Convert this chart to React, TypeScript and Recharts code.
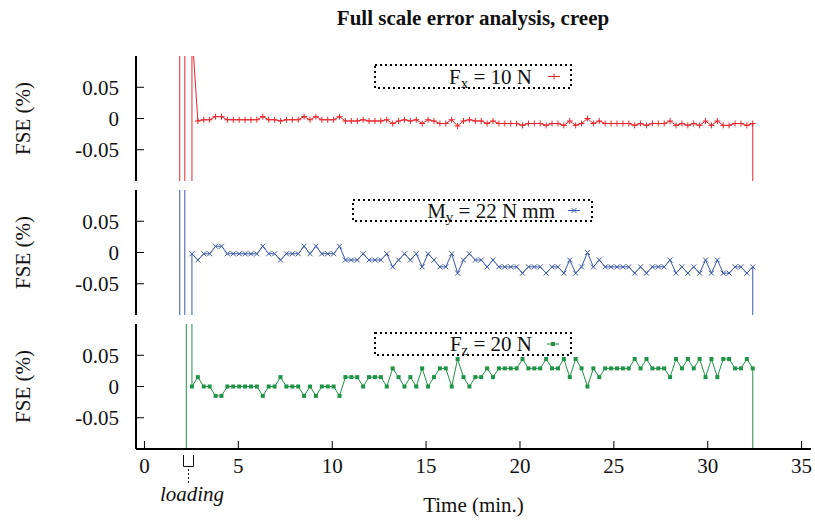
import { LineChart, Line, XAxis, YAxis, Legend } from 'recharts';

const FONT = "'Liberation Serif', 'Times New Roman', serif";

const TITLE = 'Full scale error analysis, creep';
const X_LABEL = 'Time (min.)';
const Y_LABEL = 'FSE (%)';
const X_TICKS = [0, 5, 10, 15, 20, 25, 30, 35];
const Y_TICKS = [-0.05, 0, 0.05];

// logger sampling (min.)
const SAMPLE_START = 2.53;
const SAMPLE_STEP = 0.3144;

// FSE (%) per sample
const fxValues = [
  0.14, -0.004, -0.002, -0.002, 0.003, 0.003, -0.002, -0.002, -0.002, -0.002,
  -0.002, -0.002, 0.003, -0.002, -0.002, -0.004, -0.002, -0.002, -0.002, 0.003,
  -0.002, 0.003, -0.002, -0.002, -0.002, 0.003, -0.004, -0.004, -0.004, -0.002,
  -0.004, -0.004, -0.004, -0.002, -0.008, -0.004, -0.002, -0.004, -0.002, -0.008,
  -0.002, -0.004, -0.008, -0.008, -0.002, -0.012, -0.004, -0.002, -0.004, -0.004,
  -0.008, -0.004, -0.008, -0.008, -0.008, -0.008, -0.011, -0.008, -0.008, -0.008,
  -0.011, -0.008, -0.008, -0.011, -0.004, -0.011, -0.008, 0.0, -0.008, -0.004,
  -0.008, -0.008, -0.008, -0.008, -0.008, -0.011, -0.008, -0.011, -0.008, -0.008,
  -0.008, -0.004, -0.011, -0.008, -0.011, -0.008, -0.011, -0.004, -0.011, -0.004,
  -0.011, -0.011, -0.008, -0.008, -0.011, -0.008,
];

const myValues = [
  -0.002, -0.012, -0.002, -0.002, 0.01, 0.01, -0.002, -0.002, -0.002, -0.002,
  -0.002, -0.002, 0.01, -0.002, -0.002, -0.012, -0.002, -0.002, -0.002, 0.01,
  -0.002, 0.01, -0.002, -0.002, -0.002, 0.01, -0.012, -0.012, -0.012, -0.002,
  -0.012, -0.012, -0.012, -0.002, -0.023, -0.012, -0.002, -0.012, -0.002, -0.023,
  -0.002, -0.012, -0.023, -0.023, -0.002, -0.033, -0.012, -0.002, -0.012, -0.012,
  -0.023, -0.012, -0.023, -0.023, -0.023, -0.023, -0.033, -0.023, -0.023, -0.023,
  -0.033, -0.023, -0.023, -0.033, -0.012, -0.033, -0.023, 0.0, -0.023, -0.012,
  -0.023, -0.023, -0.023, -0.023, -0.023, -0.033, -0.023, -0.033, -0.023, -0.023,
  -0.023, -0.012, -0.033, -0.023, -0.033, -0.023, -0.033, -0.012, -0.033, -0.012,
  -0.033, -0.033, -0.023, -0.023, -0.033, -0.023,
];

const fzValues = [
  0, 0.015, 0, 0, -0.015, -0.015, 0, 0, 0, 0,
  0, 0, -0.015, 0, 0, 0.015, 0, 0, 0, -0.015,
  0, -0.015, 0, 0, 0, -0.015, 0.015, 0.015, 0.015, 0,
  0.015, 0.015, 0.015, 0, 0.029, 0.015, 0, 0.015, 0, 0.029,
  0, 0.015, 0.029, 0.029, 0, 0.044, 0.015, 0, 0.015, 0.015,
  0.029, 0.015, 0.029, 0.029, 0.029, 0.029, 0.044, 0.029, 0.029, 0.029,
  0.044, 0.029, 0.029, 0.044, 0.015, 0.044, 0.029, 0, 0.029, 0.015,
  0.029, 0.029, 0.029, 0.029, 0.029, 0.044, 0.029, 0.044, 0.029, 0.029,
  0.029, 0.015, 0.044, 0.029, 0.044, 0.029, 0.044, 0.015, 0.044, 0.015,
  0.044, 0.044, 0.029, 0.029, 0.044, 0.029,
];

// off-scale swings while the load is applied
const fxLoadTimes = [1.88, 1.88, 2.15, 2.15, 2.53];
const fxLoadValues = [-1, 1, 1, -1, -1];
const myLoadTimes = [1.88, 1.88, 2.15, 2.15, 2.53];
const myLoadValues = [-1, 1, 1, -1, -1];
const fzLoadTimes = [2.23, 2.23, 2.53];
const fzLoadValues = [-1, 1, 1];
// drop when the load is removed
const UNLOAD_VALUE = -1;

type Pt = { t: number; v: number };

function buildSeries(loadT: number[], loadV: number[], values: number[]): Pt[] {
  const pts: Pt[] = loadT.map((t, i) => ({ t, v: loadV[i] }));
  values.forEach((v, i) => {
    pts.push({ t: Math.round((SAMPLE_START + i * SAMPLE_STEP) * 1000) / 1000, v });
  });
  pts.push({ t: pts[pts.length - 1].t, v: UNLOAD_VALUE });
  return pts;
}

const fxData = buildSeries(fxLoadTimes, fxLoadValues, fxValues);
const myData = buildSeries(myLoadTimes, myLoadValues, myValues);
const fzData = buildSeries(fzLoadTimes, fzLoadValues, fzValues);

type Shape = 'plus' | 'cross' | 'square';

function Marker({ x, y, color, shape }: { x: number; y: number; color: string; shape: Shape }) {
  if (shape === 'plus')
    return <path d={`M${x - 3},${y}h6M${x},${y - 3}v6`} stroke={color} strokeWidth={1} fill="none" />;
  if (shape === 'cross')
    return (
      <path d={`M${x - 2.5},${y - 2.5}l5,5M${x - 2.5},${y + 2.5}l5,-5`} stroke={color} strokeWidth={1} fill="none" />
    );
  return <rect x={x - 2} y={y - 2} width={4} height={4} fill={color} />;
}

function makeDot(color: string, shape: Shape) {
  return (props: any) => {
    const { cx, cy, payload, index } = props;
    if (cx == null || cy == null || Math.abs(payload.v) > 0.1) return <g key={index} />;
    return (
      <g key={index}>
        <Marker x={cx} y={cy} color={color} shape={shape} />
      </g>
    );
  };
}

type KeyProps = {
  width: number;
  height: number;
  textEnd: number;
  sampleX: number;
  color: string;
  shape: Shape;
  name: string;
  sub: string;
  rest: string;
};

function KeyBox({ width, height, textEnd, sampleX, color, shape, name, sub, rest }: KeyProps) {
  const cy = height / 2;
  return (
    <svg width={width} height={height} style={{ display: 'block', overflow: 'visible' }}>
      <rect
        x={1}
        y={1}
        width={width - 2}
        height={height - 2}
        fill="none"
        stroke="#000"
        strokeWidth={2}
        strokeDasharray="2 3"
      />
      <text x={textEnd} y={cy + 7} textAnchor="end" fontFamily={FONT} fontSize={21} fill="#111">
        {name}
        <tspan fontSize={15} dy={4}>
          {sub}
        </tspan>
        <tspan dy={-4}>{'\u00a0' + rest}</tspan>
      </text>
      <line x1={sampleX - 6} x2={sampleX + 6} y1={cy} y2={cy} stroke={color} strokeWidth={1} />
      <Marker x={sampleX} y={cy} color={color} shape={shape} />
    </svg>
  );
}

function YLabel(props: any) {
  const vb = props.viewBox;
  const cy = vb.y + vb.height / 2;
  return (
    <text
      transform={`translate(29.5, ${cy}) rotate(-90)`}
      textAnchor="middle"
      fontFamily={FONT}
      fontSize={21}
      fill="#111"
    >
      {Y_LABEL}
    </text>
  );
}

const PLOT_H = 125;
const tickStyle = { fill: '#111', fontSize: 21, fontFamily: FONT };
const frame = { stroke: '#000', strokeWidth: 2 };
const tickMark = { stroke: '#000', strokeWidth: 1 };
const blank = () => '';

type PanelProps = {
  data: Pt[];
  plotTop: number;
  color: string;
  shape: Shape;
  keyBox: KeyProps & { left: number; top: number };
  bottomAxis?: boolean;
};

function Panel({ data, plotTop, color, shape, keyBox, bottomAxis }: PanelProps) {
  const xAxisH = bottomAxis ? 30 : 0;
  const marginBottom = bottomAxis ? 40 : 8;
  const height = 8 + PLOT_H + xAxisH + marginBottom;
  return (
    <div style={{ position: 'absolute', left: 0, top: plotTop - 8 }}>
      <LineChart width={815} height={height} data={data} margin={{ top: 8, right: 4, bottom: marginBottom, left: 76 }}>
        <XAxis
          xAxisId="b"
          dataKey="t"
          type="number"
          domain={[-0.45, 35.5]}
          allowDataOverflow
          ticks={X_TICKS}
          interval={0}
          height={xAxisH}
          tickSize={-8}
          tickMargin={17}
          axisLine={frame}
          tickLine={tickMark}
          tick={tickStyle}
          tickFormatter={bottomAxis ? undefined : blank}
          label={
            bottomAxis
              ? { value: X_LABEL, position: 'bottom', offset: 18, fill: '#111', fontSize: 21, fontFamily: FONT }
              : undefined
          }
        />
        <XAxis
          xAxisId="top"
          orientation="top"
          dataKey="t"
          type="number"
          domain={[-0.45, 35.5]}
          allowDataOverflow
          ticks={X_TICKS}
          interval={0}
          height={0}
          tickSize={-8}
          axisLine={frame}
          tickLine={tickMark}
          tickFormatter={blank}
        />
        <YAxis
          yAxisId="l"
          type="number"
          domain={[-0.1, 0.1]}
          allowDataOverflow
          ticks={Y_TICKS}
          interval={0}
          width={60}
          tickSize={-8}
          tickMargin={25}
          axisLine={frame}
          tickLine={tickMark}
          tick={tickStyle}
          label={{ content: (p: any) => <YLabel {...p} /> }}
        />
        <YAxis
          yAxisId="r"
          orientation="right"
          type="number"
          domain={[-0.1, 0.1]}
          allowDataOverflow
          ticks={Y_TICKS}
          interval={0}
          width={0}
          tickSize={-8}
          axisLine={frame}
          tickLine={tickMark}
          tickFormatter={blank}
        />
        <Legend
          layout="horizontal"
          verticalAlign="middle"
          align="center"
          content={() => <KeyBox {...keyBox} />}
          wrapperStyle={{ left: keyBox.left, top: keyBox.top, width: keyBox.width, height: keyBox.height }}
        />
        <Line
          xAxisId="b"
          yAxisId="l"
          type="linear"
          dataKey="v"
          stroke={color}
          strokeWidth={1}
          dot={makeDot(color, shape)}
          activeDot={false}
          isAnimationActive={false}
        />
      </LineChart>
    </div>
  );
}

const RED = '#e8262d';
const BLUE = '#3a58aa';
const GREEN = '#1f9447';

export default function App() {
  return (
    <div style={{ position: 'absolute', left: 0, top: 0, width: 815, height: 520, background: '#fff', fontFamily: FONT }}>
      <svg width={815} height={520} style={{ position: 'absolute', left: 0, top: 0 }}>
        <text x={473} y={25} textAnchor="middle" fontFamily={FONT} fontWeight="bold" fontSize={21} fill="#111">
          {TITLE}
        </text>
        {/* loading marker under the time axis */}
        <path d="M183.5,455 V466.5 H193.5 V455" stroke="#111" strokeWidth={1} fill="none" />
        <line x1={188.5} x2={188.5} y1={469} y2={484} stroke="#111" strokeWidth={1} strokeDasharray="2 2" />
        <text x={192} y={501} textAnchor="middle" fontFamily={FONT} fontStyle="italic" fontSize={21} fill="#111">
          loading
        </text>
      </svg>
      <Panel
        data={fxData}
        plotTop={56}
        color={RED}
        shape="plus"
        keyBox={{ left: 374, top: 16, width: 198, height: 25, textEnd: 158, sampleX: 180, color: RED, shape: 'plus', name: 'F', sub: 'x', rest: '= 10 N' }}
      />
      <Panel
        data={myData}
        plotTop={190}
        color={BLUE}
        shape="cross"
        keyBox={{ left: 352, top: 17, width: 241, height: 23, textEnd: 203, sampleX: 222, color: BLUE, shape: 'cross', name: 'M', sub: 'y', rest: '= 22 N mm' }}
      />
      <Panel
        data={fzData}
        plotTop={324}
        color={GREEN}
        shape="square"
        bottomAxis
        keyBox={{ left: 374, top: 16, width: 198, height: 24, textEnd: 158, sampleX: 179, color: GREEN, shape: 'square', name: 'F', sub: 'z', rest: '= 20 N' }}
      />
    </div>
  );
}
